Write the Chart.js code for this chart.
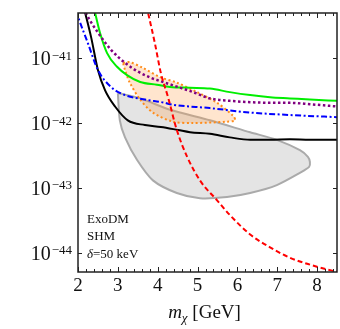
<!DOCTYPE html>
<html>
<head>
    <title>ExoDM SHM limits</title>
    <script src="https://cdn.jsdelivr.net/npm/chart.js"></script>
    <style>
        body { margin: 0; background: #fff; }
    </style>
</head>
<body>
    <canvas id="limitChart" width="340" height="329"></canvas>
    <script>
        // tick labels
        const xTicks = [2, 3, 4, 5, 6, 7, 8];
        const yTicks = [1e-44, 1e-43, 1e-42, 1e-41];
        const yTickExp = ['44', '43', '42', '41'];
        const notes = ['ExoDM', 'SHM', '=50 keV'];

        // curves (m in GeV, cross section in cm^2)
        const blackX = [2.13, 2.18, 2.33, 2.50, 2.68, 2.93, 3.25, 3.68, 4.08, 4.51, 4.81, 5.31, 5.81, 6.32, 6.82, 7.32, 7.82, 8.5];
        const blackY = [6.6e-41, 5.0e-41, 2.1e-41, 6.6e-42, 3.2e-42, 1.8e-42, 1.1e-42, 9.3e-43, 8.7e-43, 7.8e-43, 7.2e-43, 6.8e-43, 6.0e-43, 5.5e-43, 5.5e-43, 5.6e-43, 5.5e-43, 5.5e-43];

        const greenX = [2.38, 2.43, 2.55, 2.73, 2.98, 3.23, 3.56, 3.98, 4.31, 4.81, 5.31, 5.81, 6.32, 6.82, 7.32, 7.82, 8.5];
        const greenY = [6.6e-41, 5.0e-41, 2.5e-41, 1.2e-41, 7.4e-42, 5.5e-42, 4.3e-42, 3.9e-42, 3.6e-42, 3.5e-42, 3.4e-42, 3.0e-42, 2.7e-42, 2.5e-42, 2.4e-42, 2.3e-42, 2.2e-42];

        const purpleX = [2.15, 2.20, 2.50, 2.83, 3.18, 3.51, 3.83, 4.18, 4.51, 4.89, 5.31, 5.81, 6.32, 6.82, 7.32, 7.82, 8.5];
        const purpleY = [6.0e-41, 5.0e-41, 2.5e-41, 1.35e-41, 8.5e-42, 6.2e-42, 5.0e-42, 4.2e-42, 3.6e-42, 3.0e-42, 2.4e-42, 2.2e-42, 2.1e-42, 2.05e-42, 2.05e-42, 1.95e-42, 1.8e-42];

        const blueX = [1.95, 2.0, 2.25, 2.50, 2.83, 3.18, 3.68, 4.18, 4.31, 5.31, 6.32, 7.32, 8.5];
        const blueY = [5.5e-41, 4.4e-41, 1.7e-41, 6.6e-42, 3.6e-42, 2.7e-42, 2.3e-42, 2.05e-42, 1.95e-42, 1.7e-42, 1.45e-42, 1.33e-42, 1.23e-42];

        const redX = [3.72, 3.76, 3.93, 4.08, 4.26, 4.48, 4.74, 5.06, 5.49, 5.81, 6.32, 6.82, 7.32, 7.82, 8.40, 8.6];
        const redY = [6.5e-41, 5.0e-41, 1.7e-41, 5.9e-42, 2.5e-42, 7.8e-43, 3.0e-43, 1.3e-43, 6.4e-44, 3.8e-44, 1.9e-44, 1.2e-44, 8.3e-45, 6.5e-45, 5.2e-45, 4.9e-45];

        // closed regions
        const grayX = [3.00, 3.56, 4.31, 5.31, 6.32, 6.99, 7.57, 7.77, 7.82, 7.80, 7.57, 6.99, 6.32, 5.74, 5.06, 4.48, 3.88, 3.48, 3.18, 3.05, 3.00];
        const grayY = [2.9e-42, 2.4e-42, 1.6e-42, 1.1e-42, 7.2e-43, 5.5e-43, 3.8e-43, 3.0e-43, 2.5e-43, 2.1e-43, 1.7e-43, 1.1e-43, 8.3e-44, 7.2e-44, 6.9e-44, 8.3e-44, 1.3e-43, 2.7e-43, 6.0e-43, 1.1e-42, 2.9e-42];

        const orangeX = [3.13, 3.30, 3.63, 4.06, 4.48, 4.99, 5.49, 5.89, 5.94, 5.74, 4.89, 4.38, 3.88, 3.56, 3.30, 3.18, 3.13];
        const orangeY = [8.5e-42, 8.7e-42, 7.1e-42, 5.1e-42, 4.2e-42, 3.0e-42, 2.05e-42, 1.3e-42, 1.1e-42, 1.05e-42, 1.0e-42, 1.05e-42, 1.45e-42, 2.3e-42, 4.2e-42, 6.6e-42, 8.5e-42];

        const pts = (xs, ys) => xs.map((x, i) => ({x: x, y: ys[i]}));
        const serif = '"Liberation Serif", "DejaVu Serif", serif';

        const frame = {
            id: 'frame',
            afterDatasetsDraw(chart) {
                const ctx = chart.ctx;
                const a = chart.chartArea;
                const xs = chart.scales.x, ys = chart.scales.y;
                ctx.save();
                ctx.strokeStyle = '#222';
                ctx.lineWidth = 1.5;
                ctx.strokeRect(a.left, a.top, a.right - a.left, a.bottom - a.top);

                // x ticks, inward, top and bottom
                ctx.lineWidth = 1;
                ctx.beginPath();
                for (let i = 0; i <= 32; i++) {
                    const v = 2 + i * 0.2;
                    const px = Math.round(xs.getPixelForValue(v)) + 0.5;
                    const len = (i % 5 === 0) ? 5 : 3;
                    ctx.moveTo(px, a.bottom); ctx.lineTo(px, a.bottom - len);
                    ctx.moveTo(px, a.top); ctx.lineTo(px, a.top + len);
                }
                yTicks.forEach(v => {
                    const py = Math.round(ys.getPixelForValue(v)) + 0.5;
                    ctx.moveTo(a.left, py); ctx.lineTo(a.left + 4, py);
                    ctx.moveTo(a.right, py); ctx.lineTo(a.right - 4, py);
                });
                ctx.stroke();

                ctx.fillStyle = '#111';
                ctx.textBaseline = 'alphabetic';
                // x labels
                ctx.font = '19px ' + serif;
                ctx.textAlign = 'center';
                xTicks.forEach(v => ctx.fillText(String(v), xs.getPixelForValue(v), a.bottom + 19));

                // y labels 10^-n
                ctx.textAlign = 'right';
                yTicks.forEach((v, i) => {
                    const py = ys.getPixelForValue(v);
                    ctx.font = '13px ' + serif;
                    const sup = '\u2212' + yTickExp[i];
                    ctx.fillText(sup, a.left - 6, py + 1.5);
                    const w = ctx.measureText(sup).width;
                    ctx.font = '20px ' + serif;
                    ctx.fillText('10', a.left - 7 - w, py + 7);
                });

                // axis title m_chi [GeV]
                ctx.textAlign = 'left';
                ctx.font = 'italic 19px ' + serif;
                const wm = ctx.measureText('m').width;
                ctx.font = 'italic 13px ' + serif;
                const wc = ctx.measureText('\u03c7').width;
                ctx.font = '19px ' + serif;
                const wr = ctx.measureText(' [GeV]').width;
                let tx = (a.left + a.right) / 2 - 3 - (wm + wc + wr) / 2;
                const ty = a.bottom + 46;
                ctx.font = 'italic 19px ' + serif;
                ctx.fillText('m', tx, ty);
                tx += wm;
                ctx.font = 'italic 13px ' + serif;
                ctx.fillText('\u03c7', tx, ty + 4);
                tx += wc;
                ctx.font = '19px ' + serif;
                ctx.fillText(' [GeV]', tx, ty);

                // notes
                ctx.font = '13px ' + serif;
                const nx = a.left + 9;
                ctx.fillText(notes[0], nx, 223);
                ctx.fillText(notes[1], nx, 240);
                ctx.font = 'italic 13px ' + serif;
                ctx.fillText('\u03b4', nx, 258);
                const wd = ctx.measureText('\u03b4').width;
                ctx.font = '13px ' + serif;
                ctx.fillText(notes[2], nx + wd, 258);
                ctx.restore();
            }
        };

        const line = (label, xs, ys, color, dash, width, order) => ({
            label: label,
            data: pts(xs, ys),
            borderColor: color,
            borderWidth: width,
            borderDash: dash,
            pointRadius: 0,
            fill: false,
            cubicInterpolationMode: 'monotone',
            order: order
        });

        new Chart(document.getElementById('limitChart'), {
            type: 'line',
            data: {
                datasets: [
                    {
                        label: 'gray region',
                        data: pts(grayX, grayY),
                        borderColor: '#aaaaaa',
                        backgroundColor: '#e4e4e4',
                        borderWidth: 2,
                        pointRadius: 0,
                        tension: 0.25,
                        fill: 'shape',
                        order: 10
                    },
                    {
                        label: 'orange region',
                        data: pts(orangeX, orangeY),
                        borderColor: '#ff8c1a',
                        backgroundColor: 'rgba(255, 160, 80, 0.28)',
                        borderWidth: 2,
                        borderDash: [2, 2.5],
                        pointRadius: 0,
                        tension: 0.3,
                        fill: 'shape',
                        order: 9
                    },
                    line('black', blackX, blackY, '#000000', [], 2, 6),
                    line('green', greenX, greenY, '#00ee00', [], 2, 5),
                    line('purple', purpleX, purpleY, '#800080', [2.5, 2.5], 2.5, 4),
                    line('blue', blueX, blueY, '#0000ff', [6, 2.5, 2, 2.5], 2, 3),
                    line('red', redX, redY, '#ff0000', [5, 3], 2, 1)
                ]
            },
            options: {
                responsive: false,
                animation: false,
                layout: { padding: { left: 78, top: 13, right: 3, bottom: 57 } },
                plugins: { legend: { display: false }, tooltip: { enabled: false } },
                scales: {
                    x: { type: 'linear', min: 2, max: 8.5, display: false },
                    y: { type: 'logarithmic', min: 5e-45, max: 5e-41, display: false }
                }
            },
            plugins: [frame]
        });
    </script>
</body>
</html>
